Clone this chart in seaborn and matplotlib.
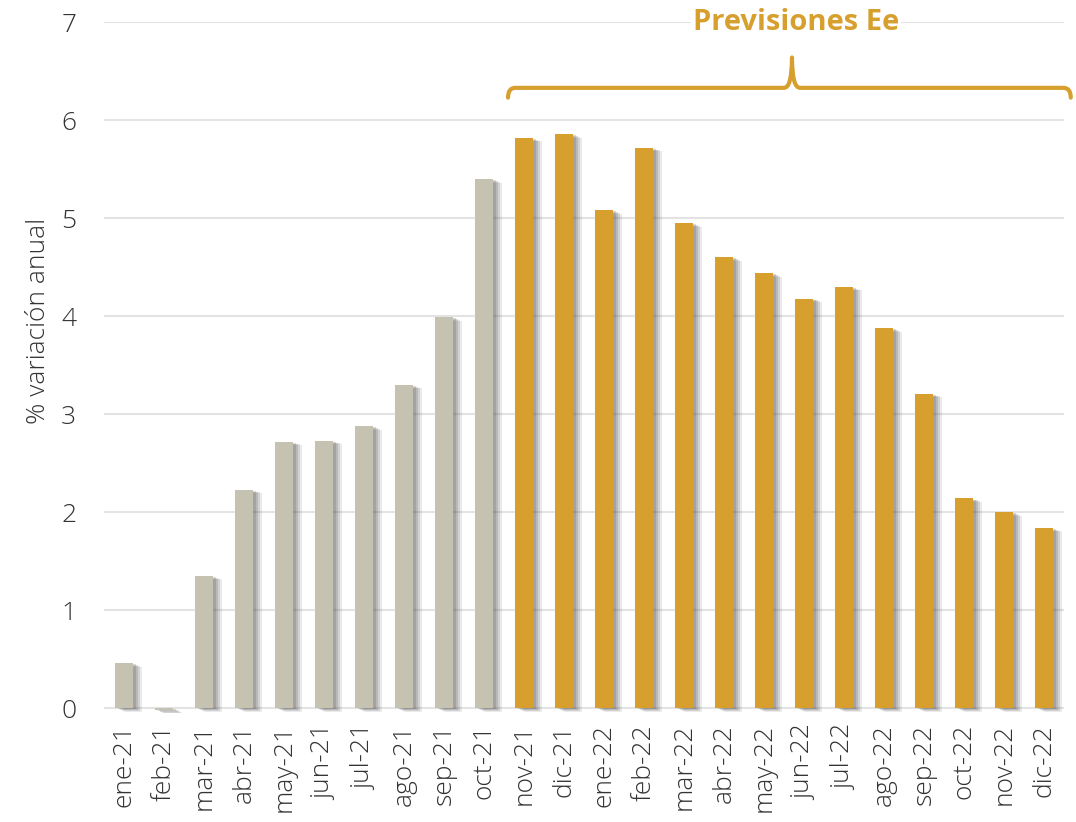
import matplotlib
matplotlib.use("Agg")
import matplotlib.pyplot as plt
import matplotlib.patheffects as pe
from matplotlib.path import Path
from matplotlib.patches import PathPatch
import seaborn as sns
import pandas as pd

months = ["ene-21", "feb-21", "mar-21", "abr-21", "may-21", "jun-21", "jul-21",
          "ago-21", "sep-21", "oct-21", "nov-21", "dic-21", "ene-22", "feb-22",
          "mar-22", "abr-22", "may-22", "jun-22", "jul-22", "ago-22", "sep-22",
          "oct-22", "nov-22", "dic-22"]
values = [0.46, -0.02, 1.35, 2.23, 2.72, 2.73, 2.88, 3.30, 3.99, 5.40,
          5.82, 5.86, 5.08, 5.72, 4.95, 4.60, 4.44, 4.18, 4.30, 3.88,
          3.21, 2.14, 2.00, 1.84]
n_observed = 10  # ene-21 .. oct-21 observed, rest forecast

GRAY = "#C5C2B1"
GOLD = "#D7A02E"
TEXT = "#333333"

df = pd.DataFrame({"mes": months, "valor": values})
palette = {m: (GRAY if i < n_observed else GOLD) for i, m in enumerate(months)}

sns.set_theme(style="white")
plt.rcParams["font.family"] = ["Open Sans", "DejaVu Sans"]
plt.rcParams["font.weight"] = "light"

fig = plt.figure(figsize=(10.76, 8.22), dpi=100)
ax = fig.add_axes([0.0967, 0.1326, 0.8921, 0.8404])

sns.barplot(data=df, x="mes", y="valor", hue="mes", palette=palette,
            order=months, width=0.45, saturation=1, linewidth=0,
            legend=False, ax=ax, zorder=3)

# soft drop shadow to the right of each bar
shadow = [pe.SimplePatchShadow(offset=(o, -o * 0.4), shadow_rgbFace="#555555", alpha=a)
          for o, a in [(6.5, 0.12), (5, 0.16), (3.5, 0.2), (2, 0.22)]]
for p in ax.patches:
    p.set_path_effects(shadow + [pe.Normal()])

ax.set_xlim(-0.5, 23.5)
ax.set_ylim(-0.05, 7)
ax.set_yticks(range(0, 8))
ax.yaxis.grid(True, color="#E3E3E3", linewidth=1.5, zorder=0)
ax.set_axisbelow(True)
for s in ax.spines.values():
    s.set_visible(False)

ax.tick_params(axis="x", labelrotation=90, labelsize=19, colors=TEXT, length=0, pad=8)
ax.tick_params(axis="y", labelsize=19, colors=TEXT, length=0, pad=20)
ax.set_xlabel("")
ax.set_ylabel("% variación anual", fontsize=19, color=TEXT, fontweight="light")
ax.yaxis.set_label_coords(-0.055, 0.567)

# Curly brace over the forecast period
x0, x1, xm = 9.6, 23.67, 16.7
yb, yh, yt = 6.23, 6.33, 6.64
r = 0.18
verts = [(x0, yb), (x0, yh), (x0 + r, yh),
         (xm - 0.2, yh), (xm, yh), (xm, yt),
         (xm, yh), (xm + 0.2, yh),
         (x1 - r, yh), (x1, yh), (x1, yb)]
codes = [Path.MOVETO, Path.CURVE3, Path.CURVE3,
         Path.LINETO, Path.CURVE3, Path.CURVE3,
         Path.CURVE3, Path.CURVE3,
         Path.LINETO, Path.CURVE3, Path.CURVE3]
brace = PathPatch(Path(verts, codes), facecolor="none", edgecolor=GOLD,
                  linewidth=3, capstyle="round", joinstyle="round", clip_on=False, zorder=4)
ax.add_patch(brace)
ax.text(16.8, 7.0, "Previsiones Ee", ha="center", va="center", fontsize=21,
        fontweight="bold", color=GOLD, zorder=5,
        bbox=dict(facecolor="white", edgecolor="none", pad=1), clip_on=False)

fig.savefig("out.png", dpi=100)
